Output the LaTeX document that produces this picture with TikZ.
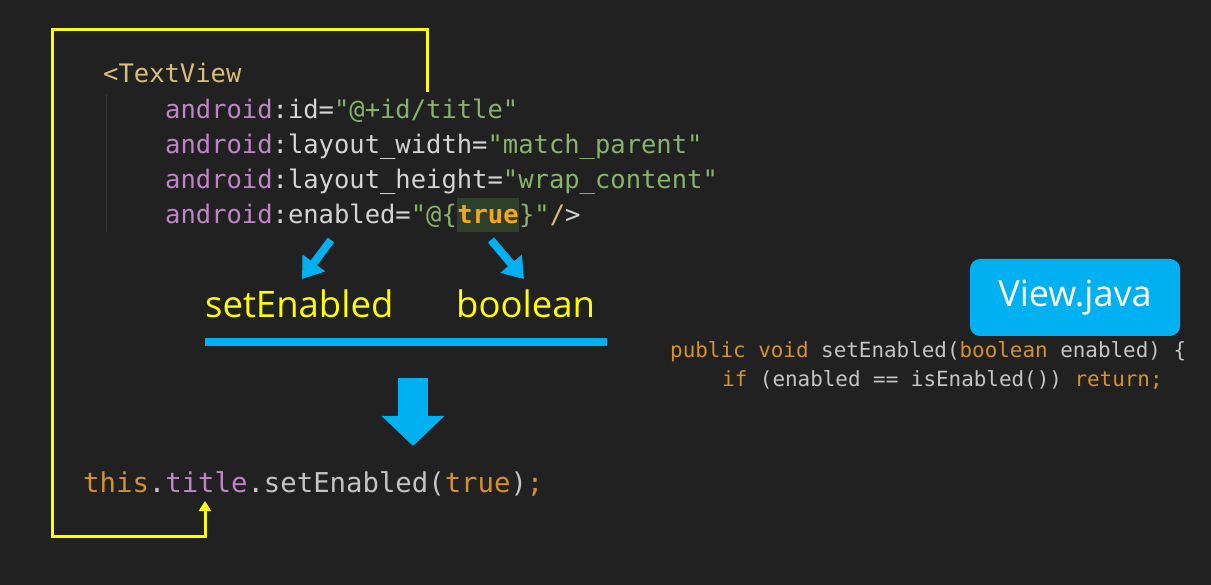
\documentclass[tikz,border=0pt]{standalone}
\usepackage{fontspec}
\usetikzlibrary{arrows.meta}
\newfontfamily\mono{DejaVu Sans Mono}
\newfontfamily\osans{Open Sans}
\definecolor{bg}{HTML}{212121}
\definecolor{ylw}{HTML}{FFFF00}
\definecolor{sky}{HTML}{00B0F0}
\definecolor{tagc}{HTML}{D9BE7A}
\definecolor{purp}{HTML}{C184C9}
\definecolor{wt}{HTML}{D4D4D4}
\definecolor{grn}{HTML}{87B46A}
\definecolor{tru}{HTML}{F5A623}
\definecolor{hl}{HTML}{2E3F2A}
\definecolor{org}{HTML}{D4922F}
\definecolor{gry}{HTML}{C4C4C4}
\definecolor{guide}{HTML}{3A3A3A}
\tikzset{
  code/.style={anchor=base west, inner sep=0pt, font=\mono\fontsize{25.5}{30}\selectfont},
  codebig/.style={anchor=base west, inner sep=0pt, font=\mono\fontsize{27.3}{32}\selectfont},
  codesm/.style={anchor=base west, inner sep=0pt, font=\mono\fontsize{20.9}{24}\selectfont},
  label/.style={anchor=base west, inner sep=0pt, text=ylw, font=\osans\fontsize{36.5}{40}\selectfont},
  yline/.style={draw=ylw, line width=3pt, line join=miter},
  barrow/.style={draw=sky, line width=8pt, -{Triangle[length=20pt,width=27pt]}},
}
\begin{document}
\begin{tikzpicture}[x=1pt,y=-1pt]
\fill[bg] (0,0) rectangle (1211,585);
\useasboundingbox (0,0) rectangle (1211,585);
% guide line
\draw[guide, line width=1pt] (106,95) -- (106,232);
% XML code
\node[code] (l1) at (103,83) {\textcolor{tagc}{<TextView}};
\node[code] (l2) at (165,119) {\textcolor{purp}{android}\textcolor{wt}{:id=}\textcolor{grn}{"@+id/title"}};
\node[code] (l3) at (165,154) {\textcolor{purp}{android}\textcolor{wt}{:layout\_width=}\textcolor{grn}{"match\_parent"}};
\node[code] (l4) at (165,189) {\textcolor{purp}{android}\textcolor{wt}{:layout\_height=}\textcolor{grn}{"wrap\_content"}};
\node[code] (l5a) at (165,224) {\textcolor{purp}{android}\textcolor{wt}{:enabled=}\textcolor{grn}{"@\{}};
\node[code, fill=hl, text height=26pt, text depth=8pt, text=tru, font=\mono\bfseries\fontsize{25.5}{30}\selectfont] (l5b) at (l5a.base east) {true};
\node[code] (l5c) at (l5b.base east) {\textcolor{grn}{\}"}\textcolor{tagc}{/}\textcolor{wt}{>}};
% yellow connector
\coordinate (ys) at (427,92);
\coordinate (ye) at (205,501);
\draw[yline, -{Triangle[length=10pt,width=12pt]}] (ys) -- (427,30) -- (52,30) -- (52,536) -- (205,536) -- (ye);
% labels
\node[label] (se) at (205,318) {setEnabled};
\node[label] (bo) at (456,318) {boolean};
\coordinate (a1s) at (331,240);
\coordinate (a1e) at (302,279);
\coordinate (a2s) at (491,240);
\coordinate (a2e) at (524,279);
\draw[barrow] (a1s) -- (a1e);
\draw[barrow] (a2s) -- (a2e);
\coordinate (bl1) at (205,342);
\coordinate (bl2) at (607,342);
\draw[sky, line width=8pt] (bl1) -- (bl2);
\coordinate (ba1) at (413,378);
\coordinate (ba2) at (413,446);
\draw[draw=sky, line width=30pt, -{Triangle[length=30pt,width=61pt]}] (ba1) -- (ba2);
% resulting call
\node[codebig] (call) at (83,492) {\textcolor{org}{this}\textcolor{gry}{.}\textcolor{purp}{title}\textcolor{gry}{.setEnabled(}\textcolor{org}{true}\textcolor{gry}{)}\textcolor{org}{;}};
% View.java
\node[fill=sky, rounded corners=10pt, minimum width=210pt, minimum height=77pt, inner sep=0pt, text=white, font=\osans\fontsize{36}{40}\selectfont] (vj) at (1075,297.5) {View.java};
\node[codesm] (r1) at (670,358) {\textcolor{org}{public void }\textcolor{gry}{setEnabled(}\textcolor{org}{boolean }\textcolor{gry}{enabled) \{}};
\node[codesm] (r2) at (722,387) {\textcolor{org}{if }\textcolor{gry}{(enabled == isEnabled()) }\textcolor{org}{return;}};
\end{tikzpicture}
\end{document}
